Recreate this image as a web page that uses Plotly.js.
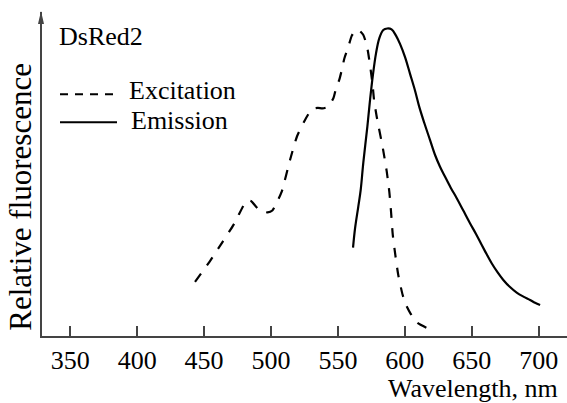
<!DOCTYPE html>
<html><head><meta charset="utf-8">
<script src="https://cdn.plot.ly/plotly-3.0.1.min.js"></script>
<style>html,body{margin:0;padding:0;background:#fff}#chart{width:567px;height:403px}</style>
</head><body><div id="chart"></div>
<script>
// Excitation spectrum (dashed)
const excitationWavelength = [443.2, 454.4, 463.6, 472.3, 479.3, 482.3, 485.0, 490.0, 494.0, 497.5, 501.0, 505.0, 508.0, 514.2, 519.4, 524.7, 528.6, 531.5, 535.0, 538.5, 542.4, 546.6, 548.6, 551.1, 553.3, 554.8, 557.8, 560.3, 562.8, 565.5, 569.0, 572.0, 574.5, 576.0, 577.0, 579.0, 583.7, 586.5, 588.4, 589.7, 591.0, 592.9, 595.1, 598.4, 600.9, 604.4, 609.3, 616.1];
const excitationValue = [0.179, 0.246, 0.307, 0.366, 0.425, 0.443, 0.441, 0.417, 0.407, 0.404, 0.410, 0.442, 0.471, 0.574, 0.650, 0.698, 0.727, 0.740, 0.743, 0.741, 0.746, 0.774, 0.806, 0.835, 0.873, 0.903, 0.941, 0.976, 0.993, 0.995, 0.979, 0.936, 0.865, 0.814, 0.768, 0.714, 0.609, 0.536, 0.471, 0.406, 0.331, 0.266, 0.201, 0.136, 0.104, 0.075, 0.046, 0.030];
// Emission spectrum (solid)
const emissionWavelength = [561.3, 562.8, 565.2, 567.0, 569.0, 572.0, 574.0, 576.0, 578.5, 580.9, 583.9, 586.9, 590.1, 593.4, 596.4, 600.1, 603.9, 607.6, 610.8, 614.7, 618.8, 622.6, 626.3, 630.0, 634.3, 638.8, 643.7, 648.7, 653.2, 657.5, 661.2, 664.9, 669.1, 673.6, 678.6, 683.6, 688.6, 693.6, 697.3, 701.1];
const emissionValue = [0.290, 0.352, 0.422, 0.476, 0.566, 0.682, 0.768, 0.844, 0.920, 0.968, 0.995, 1.000, 0.997, 0.977, 0.950, 0.908, 0.853, 0.799, 0.746, 0.692, 0.639, 0.590, 0.552, 0.520, 0.484, 0.450, 0.410, 0.369, 0.334, 0.298, 0.268, 0.239, 0.211, 0.185, 0.162, 0.144, 0.131, 0.120, 0.111, 0.104];
const xTickValues = [350, 400, 450, 500, 550, 600, 650, 700];
const xTickLabels = ["350", "400", "450", "500", "550", "600", "650", "700"];
const seriesNames = ["Excitation", "Emission"];
const proteinName = "DsRed2";
const xTitle = "Wavelength, nm";
const yTitle = "Relative fluorescence";

const FONT = '"Liberation Serif", "Times New Roman", serif';
const M = {l: 42, r: 0, t: 12, b: 67};
const PW = 567 - M.l - M.r, PH = 403 - M.t - M.b;
const px = v => (v - M.l) / PW;
const py = v => (403 - M.b - v) / PH;
const axisColor = '#444';

const traces = [
  {x: excitationWavelength, y: excitationValue, name: seriesNames[0], mode: 'lines',
   line: {color: '#000', width: 2.2, dash: '10px,10px', shape: 'spline', smoothing: 0.6}, hoverinfo: 'skip'},
  {x: emissionWavelength, y: emissionValue, name: seriesNames[1], mode: 'lines',
   line: {color: '#000', width: 2.2, shape: 'spline', smoothing: 1.0}, hoverinfo: 'skip'}
];

const ax0 = px(41);
const layout = {
  width: 567, height: 403, margin: M, showlegend: false,
  paper_bgcolor: '#fff', plot_bgcolor: '#fff',
  font: {family: FONT, color: '#000', size: 26},
  xaxis: {range: [328.85, 721.2], showgrid: false, zeroline: false, showline: true,
    linecolor: axisColor, linewidth: 2, ticks: 'inside', ticklen: 10, tickwidth: 2, tickcolor: axisColor,
    tickvals: xTickValues, ticktext: xTickLabels, tickfont: {family: FONT, size: 26, color: '#000'}, fixedrange: true},
  yaxis: {range: [0.00324, 1.0535], showgrid: false, zeroline: false, showline: true,
    linecolor: axisColor, linewidth: 2, ticks: '', showticklabels: false, fixedrange: true},
  shapes: [
    {type: 'path', xref: 'paper', yref: 'paper',
     path: `M ${ax0},${py(11)} L ${px(38)},${py(24)} L ${px(44)},${py(24)} Z`,
     fillcolor: axisColor, line: {width: 0}},
    {type: 'line', xref: 'paper', yref: 'paper', x0: px(60), x1: px(114), y0: py(94.3), y1: py(94.3),
     line: {color: '#000', width: 2, dash: '8px,7px'}},
    {type: 'line', xref: 'paper', yref: 'paper', x0: px(60), x1: px(117), y0: py(122.3), y1: py(122.3),
     line: {color: '#000', width: 2}}
  ],
  annotations: [
    {text: proteinName, xref: 'paper', yref: 'paper', x: px(57), y: py(36.5), xanchor: 'left', yanchor: 'middle', showarrow: false, font: {size: 26}},
    {text: seriesNames[0], xref: 'paper', yref: 'paper', x: px(127), y: py(91), xanchor: 'left', yanchor: 'middle', showarrow: false, font: {size: 26}},
    {text: seriesNames[1], xref: 'paper', yref: 'paper', x: px(129), y: py(120.5), xanchor: 'left', yanchor: 'middle', showarrow: false, font: {size: 26}},
    {text: xTitle, xref: 'paper', yref: 'paper', x: px(560), y: py(388), xanchor: 'right', yanchor: 'middle', showarrow: false, font: {size: 26}},
    {text: yTitle, xref: 'paper', yref: 'paper', x: px(21), y: py(196.7), xanchor: 'center', yanchor: 'middle', textangle: -90, showarrow: false, font: {size: 31}}
  ]
};
Plotly.newPlot('chart', traces, layout, {staticPlot: true, displayModeBar: false});
</script>
</body></html>
